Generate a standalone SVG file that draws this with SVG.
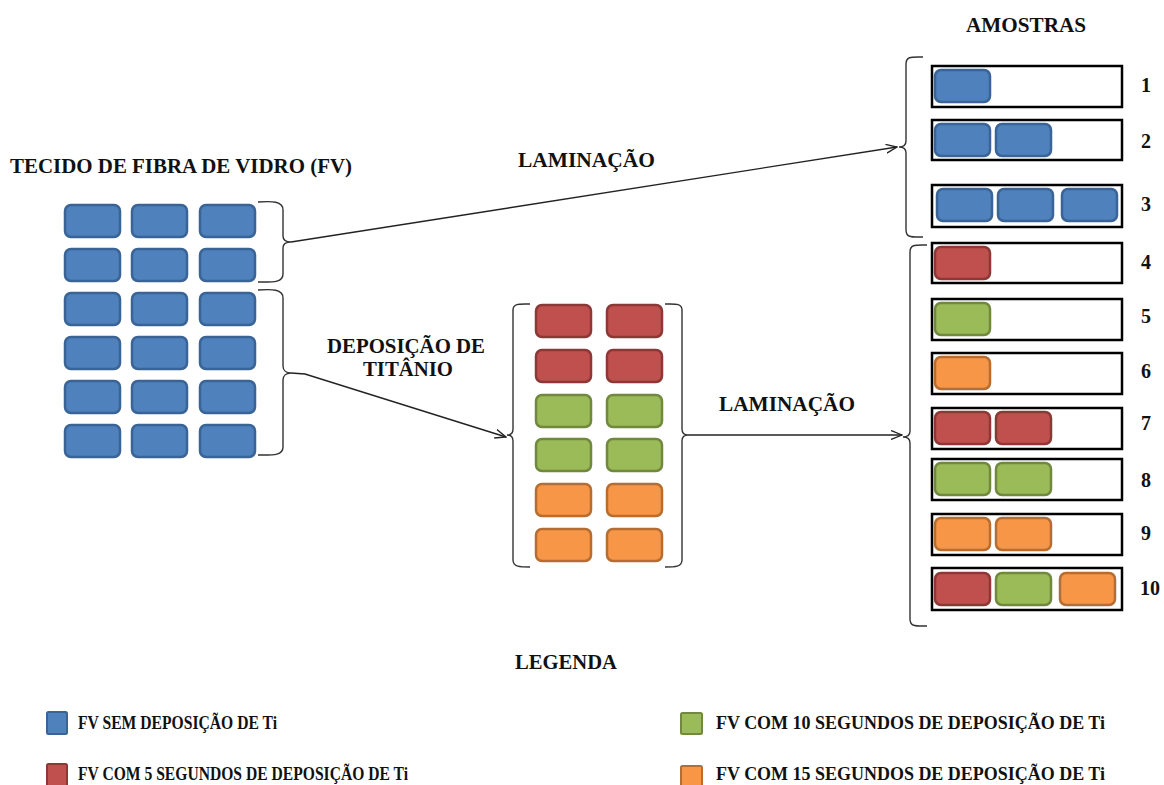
<svg xmlns="http://www.w3.org/2000/svg" width="1164" height="785" viewBox="0 0 1164 785">
  <style>
    .lbl { font-family: "Liberation Serif", "Times New Roman", serif; font-weight: bold; font-size: 20px; fill: #111; }
    .leg { font-family: "Liberation Serif", "Times New Roman", serif; font-weight: bold; font-size: 19px; fill: #111; }
    .num { font-family: "Liberation Serif", "Times New Roman", serif; font-weight: bold; font-size: 20px; fill: #111; }
    .t { stroke-width: 2.5; }
    .blue { fill: #4F81BD; stroke: #3A6496; }
    .red { fill: #C0504D; stroke: #8C3836; }
    .green { fill: #9BBB59; stroke: #71893F; }
    .orange { fill: #F79646; stroke: #B66D31; }
    .box { fill: #fff; stroke: #000; stroke-width: 2.5; }
    .brace { fill: none; stroke: #333; stroke-width: 1.4; }
    .conn { fill: none; stroke: #222; stroke-width: 1.4; }
  </style>
  <defs>
    <marker id="arr" viewBox="0 0 12 10" refX="11" refY="5" markerWidth="12" markerHeight="10" orient="auto" markerUnits="userSpaceOnUse">
      <path d="M0,0.5 L11,5 L0,9.5" fill="none" stroke="#222" stroke-width="1.3"/>
    </marker>
    <rect id="tile" width="55" height="32" rx="6" ry="6"/>
  </defs>

  <rect width="1164" height="785" fill="#fff"/>

  <!-- titles -->
  <text class="lbl" x="10" y="173" textLength="342" lengthAdjust="spacingAndGlyphs">TECIDO DE FIBRA DE VIDRO (FV)</text>
  <text class="lbl" x="966" y="32" textLength="120" lengthAdjust="spacingAndGlyphs">AMOSTRAS</text>

  <!-- glass fabric stack -->
  <g id="fabric">
    <g class="blue t">
      <use href="#tile" x="65" y="205"/><use href="#tile" x="132" y="205"/><use href="#tile" x="200" y="205"/>
      <use href="#tile" x="65" y="249"/><use href="#tile" x="132" y="249"/><use href="#tile" x="200" y="249"/>
      <use href="#tile" x="65" y="293"/><use href="#tile" x="132" y="293"/><use href="#tile" x="200" y="293"/>
      <use href="#tile" x="65" y="337"/><use href="#tile" x="132" y="337"/><use href="#tile" x="200" y="337"/>
      <use href="#tile" x="65" y="381"/><use href="#tile" x="132" y="381"/><use href="#tile" x="200" y="381"/>
      <use href="#tile" x="65" y="425"/><use href="#tile" x="132" y="425"/><use href="#tile" x="200" y="425"/>
    </g>
    <path class="brace" d="M258,202 C272,201 283,201 283,210 L283,236 C283,240 286,242 291,242 C286,242 283,244 283,248 L283,274 C283,283 272,282 258,282"/>
    <path class="brace" d="M258,290 C272,289 283,289 283,298 L283,366 C283,370 286,373 291,373 C286,373 283,376 283,380 L283,447 C283,456 272,455 258,455"/>
  </g>

  <!-- titanium-coated fabric -->
  <g id="coated">
    <g class="red t"><use href="#tile" x="536" y="305"/><use href="#tile" x="607" y="305"/><use href="#tile" x="536" y="350"/><use href="#tile" x="607" y="350"/></g>
    <g class="green t"><use href="#tile" x="536" y="395"/><use href="#tile" x="607" y="395"/><use href="#tile" x="536" y="439"/><use href="#tile" x="607" y="439"/></g>
    <g class="orange t"><use href="#tile" x="536" y="484"/><use href="#tile" x="607" y="484"/><use href="#tile" x="536" y="529"/><use href="#tile" x="607" y="529"/></g>
    <path class="brace" d="M530,304 C520,304 513,303 513,310 L513,429 C513,433 511,435 507,435 C511,435 513,437 513,441 L513,560 C513,567 520,567 530,567"/>
    <path class="brace" d="M665,304 C675,304 682,303 682,310 L682,429 C682,433 684,435 688,435 C684,435 682,437 682,441 L682,560 C682,567 675,567 665,567"/>
  </g>

  <!-- samples -->
  <g id="samples">
    <path class="brace" d="M923,57 C912,57 906,56 906,64 L906,141 C906,145 904,147 899,147 C904,147 906,149 906,153 L906,230 C906,238 912,237 923,237"/>
    <path class="brace" d="M927,245 C916,245 910,244 910,252 L910,431 C910,435 908,437 903,437 C908,437 910,439 910,443 L910,619 C910,627 916,626 927,626"/>
    <g id="s1"><rect class="box" x="932" y="66" width="190" height="41"/><use href="#tile" class="blue t" x="935" y="70"/><text class="num" x="1141" y="92">1</text></g>
    <g id="s2"><rect class="box" x="932" y="120" width="190" height="40"/><use href="#tile" class="blue t" x="935" y="124"/><use href="#tile" class="blue t" x="996" y="124"/><text class="num" x="1141" y="148">2</text></g>
    <g id="s3"><rect class="box" x="932" y="185" width="190" height="42"/><use href="#tile" class="blue t" x="937" y="189"/><use href="#tile" class="blue t" x="998" y="189"/><use href="#tile" class="blue t" x="1062" y="189"/><text class="num" x="1141" y="211">3</text></g>
    <g id="s4"><rect class="box" x="932" y="243" width="190" height="40"/><use href="#tile" class="red t" x="935" y="247"/><text class="num" x="1141" y="269">4</text></g>
    <g id="s5"><rect class="box" x="932" y="299" width="190" height="41"/><use href="#tile" class="green t" x="935" y="303"/><text class="num" x="1141" y="323">5</text></g>
    <g id="s6"><rect class="box" x="932" y="353" width="190" height="41"/><use href="#tile" class="orange t" x="935" y="357"/><text class="num" x="1141" y="378">6</text></g>
    <g id="s7"><rect class="box" x="932" y="408" width="190" height="41"/><use href="#tile" class="red t" x="935" y="412"/><use href="#tile" class="red t" x="996" y="412"/><text class="num" x="1141" y="430">7</text></g>
    <g id="s8"><rect class="box" x="932" y="459" width="190" height="41"/><use href="#tile" class="green t" x="935" y="463"/><use href="#tile" class="green t" x="996" y="463"/><text class="num" x="1141" y="487">8</text></g>
    <g id="s9"><rect class="box" x="932" y="514" width="190" height="41"/><use href="#tile" class="orange t" x="935" y="518"/><use href="#tile" class="orange t" x="996" y="518"/><text class="num" x="1141" y="540">9</text></g>
    <g id="s10"><rect class="box" x="932" y="568" width="190" height="42"/><use href="#tile" class="red t" x="935" y="573"/><use href="#tile" class="green t" x="996" y="573"/><use href="#tile" class="orange t" x="1060" y="573"/><text class="num" x="1140" y="595">10</text></g>
  </g>

  <!-- connectors -->
  <g id="connectors">
    <path class="conn" d="M291,242 L897,147" marker-end="url(#arr)"/>
    <path class="conn" d="M291,373 L305,374 L506,437" marker-end="url(#arr)"/>
    <path class="conn" d="M688,435 L902,435" marker-end="url(#arr)"/>
    <text class="lbl" x="518" y="167" textLength="137" lengthAdjust="spacingAndGlyphs">LAMINAÇÃO</text>
    <text class="lbl" x="327" y="353" textLength="158" lengthAdjust="spacingAndGlyphs">DEPOSIÇÃO DE</text>
    <text class="lbl" x="363" y="376" textLength="90" lengthAdjust="spacingAndGlyphs">TITÂNIO</text>
    <text class="lbl" x="719" y="411" textLength="136" lengthAdjust="spacingAndGlyphs">LAMINAÇÃO</text>
  </g>

  <!-- legend -->
  <g id="legend">
    <text class="lbl" x="515" y="669" textLength="102" lengthAdjust="spacingAndGlyphs">LEGENDA</text>
    <rect class="blue" stroke-width="2" x="47" y="712" width="20" height="22" rx="1.5"/>
    <text class="leg" x="78" y="729" textLength="199" lengthAdjust="spacingAndGlyphs">FV SEM DEPOSIÇÃO DE Ti</text>
    <rect class="red" stroke-width="2" x="47" y="764" width="20" height="24" rx="1.5"/>
    <text class="leg" x="78" y="780" textLength="330" lengthAdjust="spacingAndGlyphs">FV COM 5 SEGUNDOS DE DEPOSIÇÃO DE Ti</text>
    <rect class="green" stroke-width="2" x="681" y="713" width="21" height="21" rx="1.5"/>
    <text class="leg" x="716" y="729" textLength="389" lengthAdjust="spacingAndGlyphs">FV COM 10 SEGUNDOS DE DEPOSIÇÃO DE Ti</text>
    <rect class="orange" stroke-width="2" x="681" y="766" width="21" height="22" rx="1.5"/>
    <text class="leg" x="716" y="780" textLength="389" lengthAdjust="spacingAndGlyphs">FV COM 15 SEGUNDOS DE DEPOSIÇÃO DE Ti</text>
  </g>
</svg>
